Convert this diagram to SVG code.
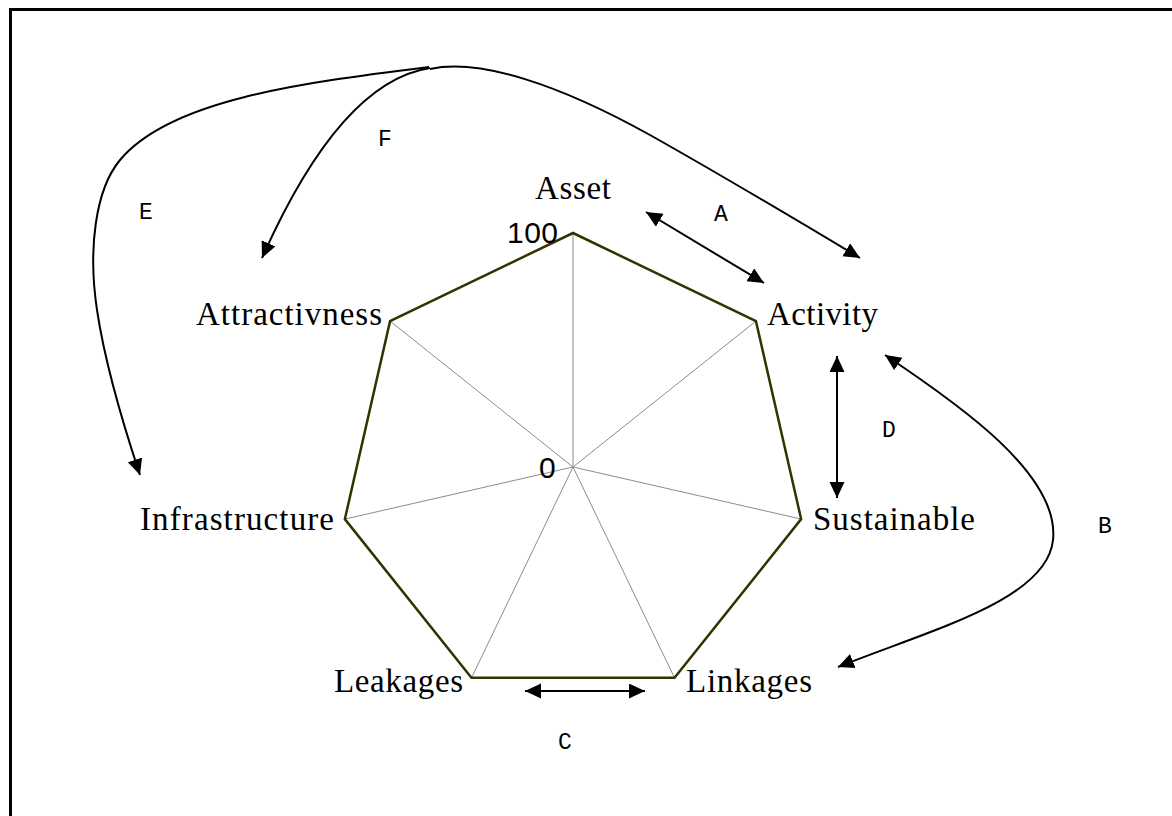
<svg xmlns="http://www.w3.org/2000/svg" width="1172" height="816" viewBox="0 0 1172 816">
<style>
.lbl{font-family:"Liberation Serif","Times New Roman",serif;font-size:33px;fill:#000}
.num{font-family:"Liberation Sans",Arial,sans-serif;font-size:30px;fill:#000}
.let{font-family:"Liberation Mono","Courier New",monospace;font-size:23px;fill:#000;text-anchor:middle}
.conn{fill:none;stroke:#000;stroke-width:2}
.spoke{stroke:#8c8c8c;stroke-width:1}
</style>
<defs>
<marker id="ah" markerUnits="userSpaceOnUse" markerWidth="17" markerHeight="16" refX="16" refY="7.5" orient="auto-start-reverse" viewBox="0 0 17 16">
<path d="M0,0 L16,7.5 L0,15 z" fill="#000"/>
</marker>
</defs>
<rect x="0" y="0" width="1172" height="816" fill="#fff"/>
<rect id="frame" x="10.5" y="9.5" width="1200" height="900" fill="none" stroke="#000" stroke-width="3"/>

<g id="radar">
<g id="spokes">
<line class="spoke" x1="573" y1="467" x2="573" y2="233" stroke="#bbb"/>
<line class="spoke" x1="573" y1="467" x2="755.95" y2="321.1"/>
<line class="spoke" x1="573" y1="467" x2="801.13" y2="519.07"/>
<line class="spoke" x1="573" y1="467" x2="674.53" y2="677.83"/>
<line class="spoke" x1="573" y1="467" x2="471.47" y2="677.83"/>
<line class="spoke" x1="573" y1="467" x2="344.87" y2="519.07"/>
<line class="spoke" x1="573" y1="467" x2="390.05" y2="321.1"/>
</g>
<polygon id="heptagon" points="573,233 755.95,321.1 801.13,519.07 674.53,677.83 471.47,677.83 344.87,519.07 390.05,321.1" fill="none" stroke="#333300" stroke-width="2.5" stroke-linejoin="miter"/>
<text class="num" x="507" y="243" textLength="51">100</text>
<text class="num" x="539" y="478">0</text>
</g>

<g id="node-asset"><text class="lbl" x="535" y="199" textLength="76">Asset</text></g>
<g id="node-activity"><text class="lbl" x="767" y="325" textLength="111">Activity</text></g>
<g id="node-sustainable"><text class="lbl" x="813" y="530" textLength="162">Sustainable</text></g>
<g id="node-linkages"><text class="lbl" x="686" y="692" textLength="126">Linkages</text></g>
<g id="node-leakages"><text class="lbl" x="334" y="692" textLength="129">Leakages</text></g>
<g id="node-infrastructure"><text class="lbl" x="140" y="530" textLength="194">Infrastructure</text></g>
<g id="node-attractivness"><text class="lbl" x="196" y="325" textLength="186">Attractivness</text></g>

<g id="connectors">
<path class="conn" d="M429,67 C300,83 170,100 120,160 C95,190 88,250 97,310 C106,370 125,430 140,475" marker-end="url(#ah)"/>
<path class="conn" d="M430,68 C365,78 310,150 262,258" marker-end="url(#ah)"/>
<path class="conn" d="M430,69 C480,58 560,85 650,135 C730,180 800,222 860,258" marker-end="url(#ah)"/>
<path class="conn" d="M646,212 L764,283" marker-start="url(#ah)" marker-end="url(#ah)"/>
<path class="conn" d="M837,356 L837,498" marker-start="url(#ah)" marker-end="url(#ah)"/>
<path class="conn" d="M885,355 C960,405 1060,475 1053,540 C1047,600 930,630 838,667" marker-start="url(#ah)" marker-end="url(#ah)"/>
<path class="conn" d="M525,691 L645,691" marker-start="url(#ah)" marker-end="url(#ah)"/>
</g>

<g id="connector-labels">
<text class="let" x="146" y="219">E</text>
<text class="let" x="385" y="146">F</text>
<text class="let" x="721" y="221">A</text>
<text class="let" x="889" y="437">D</text>
<text class="let" x="1105" y="533">B</text>
<text class="let" x="565" y="749">C</text>
</g>
</svg>
